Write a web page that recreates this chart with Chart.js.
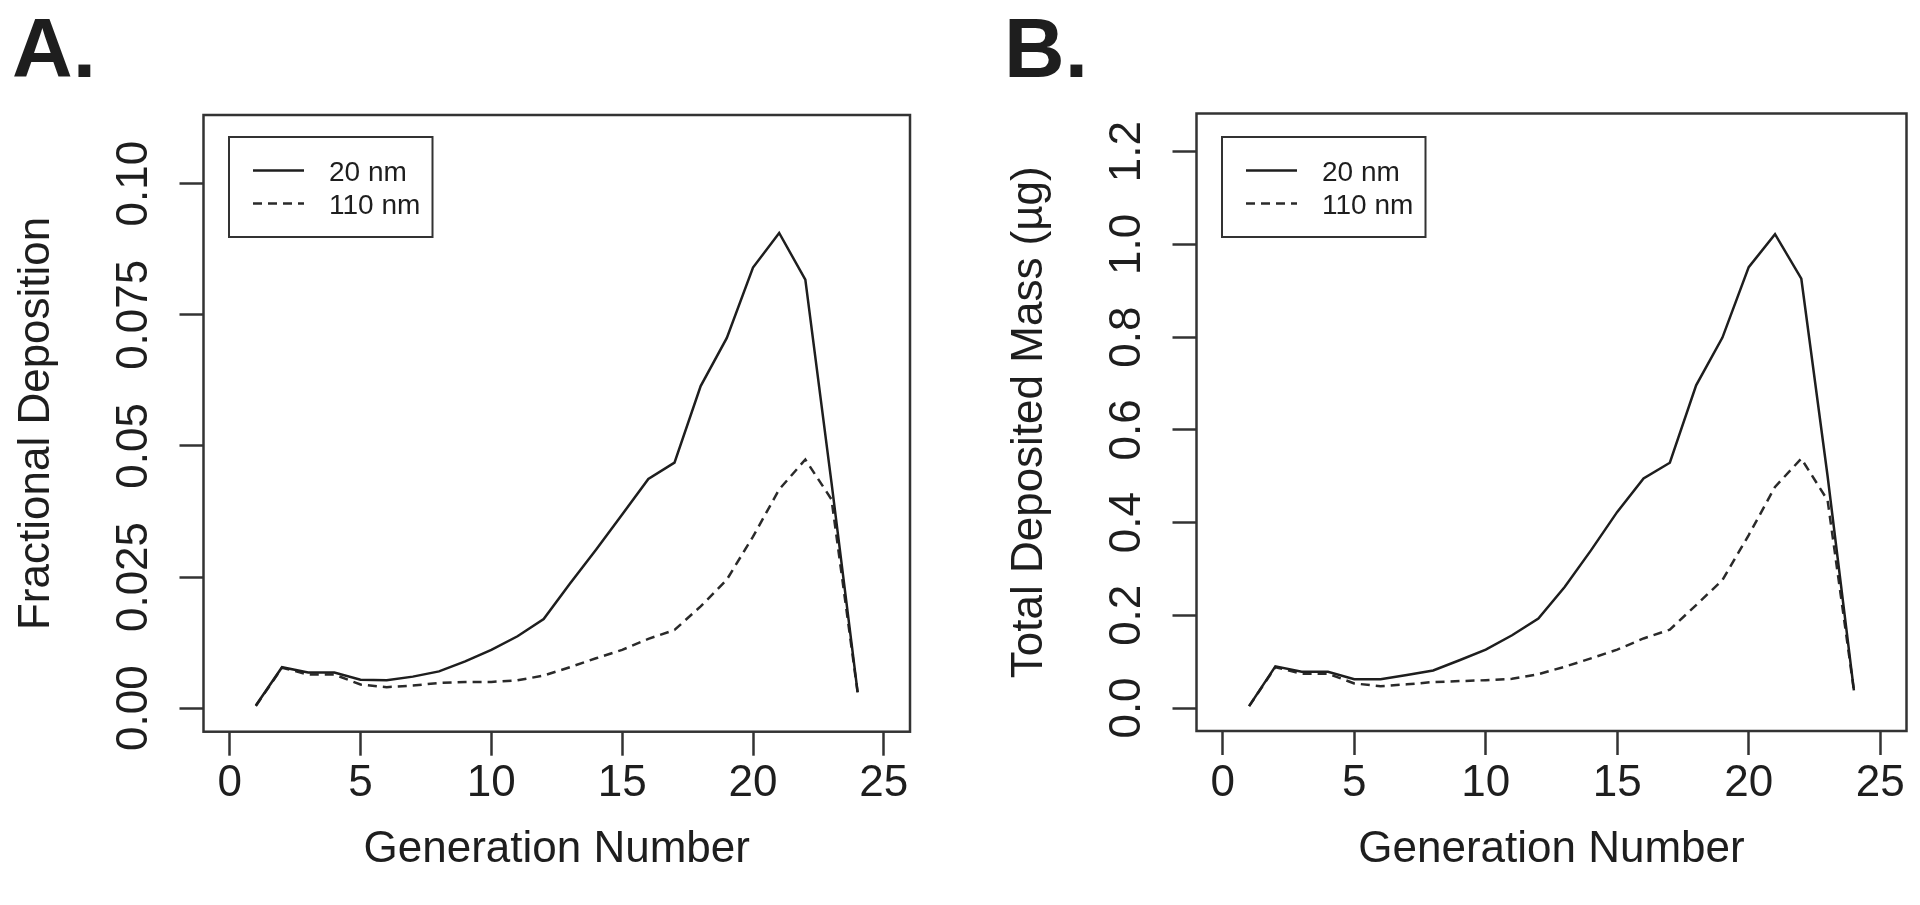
<!DOCTYPE html>
<html>
<head>
<meta charset="utf-8">
<script src="https://cdn.jsdelivr.net/npm/chart.js@4"></script>
<style>
  html, body { margin: 0; padding: 0; background: #fff; }
  body { width: 1920px; height: 905px; position: relative; overflow: hidden; }
  .panel { position: absolute; top: 0; height: 905px; }
  #pa { left: 0; width: 960px; }
  #pb { left: 960px; width: 960px; }
</style>
</head>
<body>
<div class="panel" id="pa"><canvas id="chart-a"></canvas></div>
<div class="panel" id="pb"><canvas id="chart-b"></canvas></div>
<script>
// ---------- Data ----------
const generations = [1, 2, 3, 4, 5, 6, 7, 8, 9, 10, 11, 12, 13, 14, 15, 16, 17, 18, 19, 20, 21, 22, 23, 24];

// A. fractional deposition
const fracDep20nm = [0.0005, 0.0078, 0.0068, 0.0068, 0.0054, 0.0053, 0.0060, 0.0070, 0.0089, 0.0111, 0.0137, 0.0170,
                     0.0237, 0.0302, 0.0369, 0.0437, 0.0468, 0.0614, 0.0706, 0.0840, 0.0906, 0.0817, 0.0430, 0.0030];
const fracDep110nm = [0.0004, 0.0077, 0.0064, 0.0064, 0.0045, 0.0040, 0.0043, 0.0048, 0.0050, 0.0050, 0.0053, 0.0062,
                      0.0078, 0.0095, 0.0111, 0.0132, 0.0149, 0.0194, 0.0245, 0.0327, 0.0417, 0.0474, 0.0398, 0.0029];

// B. total deposited mass (µg)
const mass20nm = [0.004, 0.090, 0.078, 0.078, 0.062, 0.062, 0.071, 0.081, 0.103, 0.126, 0.157, 0.193,
                  0.261, 0.340, 0.423, 0.495, 0.529, 0.696, 0.799, 0.951, 1.022, 0.926, 0.500, 0.038];
const mass110nm = [0.004, 0.088, 0.074, 0.074, 0.053, 0.047, 0.051, 0.056, 0.058, 0.060, 0.063, 0.073,
                   0.089, 0.107, 0.126, 0.150, 0.169, 0.222, 0.276, 0.373, 0.477, 0.538, 0.448, 0.038];

const xTicks = [0, 5, 10, 15, 20, 25];
const yTicksA = [0, 0.025, 0.05, 0.075, 0.10];
const yTickLabelsA = ['0.00', '0.025', '0.05', '0.075', '0.10'];
const yTicksB = [0, 0.2, 0.4, 0.6, 0.8, 1.0, 1.2];
const yTickLabelsB = ['0.0', '0.2', '0.4', '0.6', '0.8', '1.0', '1.2'];
const seriesNames = ['20 nm', '110 nm'];

// ---------- Style ----------
const FONT = "'Liberation Sans', Arial, Helvetica, sans-serif";
const INK = '#1e1e1e';
const BOX = '#333';

// R-style decorations: box, rotated y labels, axis titles, legend, panel letter
const rDecor = {
    id: 'rDecor',
    afterDraw(chart, args, o) {
        const { ctx, chartArea: a, scales } = chart;
        ctx.save();
        ctx.strokeStyle = BOX;
        ctx.lineWidth = 2.5;
        ctx.strokeRect(a.left, a.top, a.right - a.left, a.bottom - a.top);

        // y tick labels (rotated like R las=0)
        ctx.fillStyle = INK;
        ctx.font = `44px ${FONT}`;
        ctx.textAlign = 'center';
        ctx.textBaseline = 'alphabetic';
        o.yTicks.forEach((v, i) => {
            const y = scales.y.getPixelForValue(v);
            ctx.save();
            ctx.translate(a.left - 72.5 + 15.5, y);
            ctx.rotate(-Math.PI / 2);
            ctx.fillText(o.yLabels[i], 0, 0);
            ctx.restore();
        });

        // y title
        ctx.save();
        ctx.translate(a.left - 170 + 15.5, (a.top + a.bottom) / 2);
        ctx.rotate(-Math.PI / 2);
        ctx.fillText(o.yTitle, 0, 0);
        ctx.restore();

        // x title
        ctx.fillText('Generation Number', (a.left + a.right) / 2, 862);

        // legend
        const lx = a.left + 25.5, ly = 137;
        ctx.lineWidth = 2;
        ctx.strokeRect(lx, ly, 203.5, 100);
        ctx.font = `28px ${FONT}`;
        ctx.textAlign = 'left';
        chart.data.datasets.forEach((ds, i) => {
            const yy = 170.5 + i * 33;
            ctx.strokeStyle = ds.borderColor;
            ctx.lineWidth = ds.borderWidth;
            ctx.setLineDash(ds.borderDash || []);
            ctx.beginPath();
            ctx.moveTo(lx + 24, yy);
            ctx.lineTo(lx + 75, yy);
            ctx.stroke();
            ctx.setLineDash([]);
            ctx.fillText(ds.label, lx + 100, yy + 10);
        });

        // panel letter
        ctx.font = `bold 84px ${FONT}`;
        ctx.fillText(o.letter, o.letterX, 77);
        ctx.restore();
    }
};

function makeChart(id, s20, s110, cfg) {
    const ctx = document.getElementById(id).getContext('2d');
    return new Chart(ctx, {
        type: 'line',
        data: {
            datasets: [
                { label: seriesNames[0], data: generations.map((g, i) => ({ x: g, y: s20[i] })),
                  borderColor: INK, borderWidth: 2.5, pointRadius: 0, tension: 0 },
                { label: seriesNames[1], data: generations.map((g, i) => ({ x: g, y: s110[i] })),
                  borderColor: '#2a2a2a', borderWidth: 2.5, borderDash: [9, 6], pointRadius: 0, tension: 0 }
            ]
        },
        options: {
            responsive: true,
            maintainAspectRatio: false,
            animation: false,
            devicePixelRatio: 1,
            layout: { padding: { top: cfg.top, right: cfg.right, left: 0, bottom: 0 } },
            plugins: {
                legend: { display: false },
                tooltip: { enabled: false },
                rDecor: { yTicks: cfg.yTicks, yLabels: cfg.yLabels, yTitle: cfg.yTitle, letter: cfg.letter, letterX: cfg.letterX }
            },
            scales: {
                x: {
                    type: 'linear', min: -1, max: 26,
                    afterBuildTicks: s => { s.ticks = xTicks.map(v => ({ value: v })); },
                    afterFit: s => { s.height = 905 - cfg.bottom; },
                    grid: { drawOnChartArea: false, drawTicks: true, tickLength: 24, tickWidth: 2.5, tickColor: BOX },
                    border: { display: false },
                    ticks: { color: INK, font: { family: FONT, size: 44 }, padding: 2, maxRotation: 0, autoSkip: false }
                },
                y: {
                    type: 'linear', min: cfg.yMin, max: cfg.yMax,
                    afterBuildTicks: s => { s.ticks = cfg.yTicks.map(v => ({ value: v })); },
                    afterFit: s => { s.width = cfg.left; },
                    grid: { drawOnChartArea: false, drawTicks: true, tickLength: 24, tickWidth: 2.5, tickColor: BOX },
                    border: { display: false },
                    ticks: { display: false }
                }
            }
        },
        plugins: [rDecor]
    });
}

makeChart('chart-a', fracDep20nm, fracDep110nm, {
    top: 115, bottom: 731.7, left: 203.5, right: 50,
    yMin: -0.0045, yMax: 0.1131, yTicks: yTicksA, yLabels: yTickLabelsA,
    yTitle: 'Fractional Deposition', letter: 'A.', letterX: 12
});
makeChart('chart-b', mass20nm, mass110nm, {
    top: 113.5, bottom: 731, left: 236.5, right: 13.5,
    yMin: -0.0496, yMax: 1.2824, yTicks: yTicksB, yLabels: yTickLabelsB,
    yTitle: 'Total Deposited Mass (µg)', letter: 'B.', letterX: 1004 - 960
});
</script>
</body>
</html>
